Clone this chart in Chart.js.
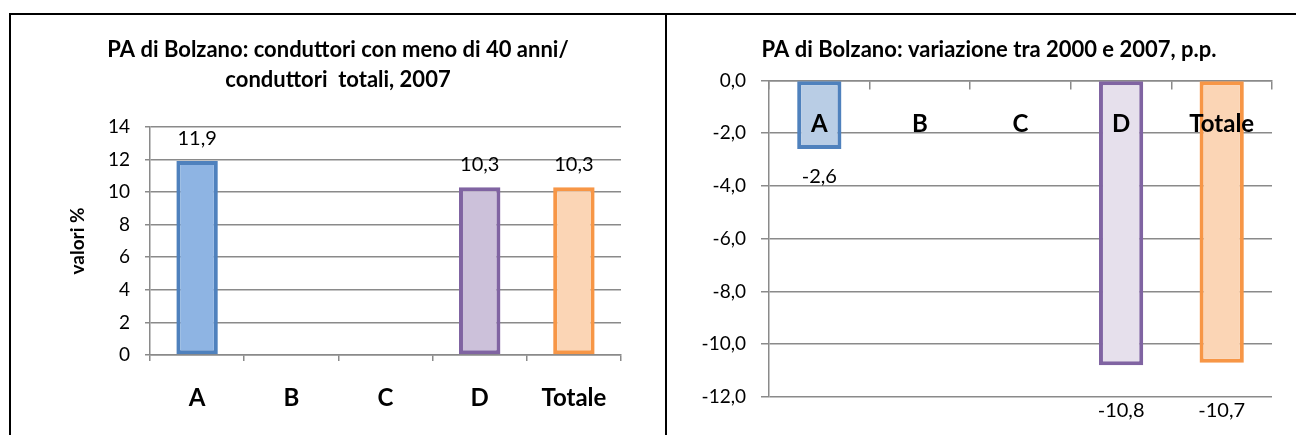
<!DOCTYPE html>
<html lang="it">
<head>
<meta charset="utf-8">
<title>PA di Bolzano</title>
<script src="https://cdn.jsdelivr.net/npm/chart.js@4.4.1/dist/chart.umd.min.js"></script>
<style>
    body { margin: 0; background: #fff; width: 1296px; height: 435px; overflow: hidden; position: relative; }
    .linea { position: absolute; background: #000; }
    .panel { position: absolute; top: 15px; height: 420px; }
</style>
</head>
<body>
<div class="linea" style="left:9px; top:13px; width:1287px; height:2px;"></div>
<div class="linea" style="left:9px; top:13px; width:2px; height:422px;"></div>
<div class="linea" style="left:665px; top:13px; width:2px; height:422px;"></div>

<div class="panel" style="left:11px; width:654px;"><canvas id="graficoQuota"></canvas></div>
<div class="panel" style="left:667px; width:629px;"><canvas id="graficoVariazione"></canvas></div>

<script>
// Datos
const categorie = ['A', 'B', 'C', 'D', 'Totale'];
const valoriQuota = [11.9, null, null, 10.3, 10.3];          // % conduttori < 40 anni, 2007
const valoriVariazione = [-2.6, null, null, -10.8, -10.7];   // variazione 2000-2007, p.p.
const ticksQuota = [0, 2, 4, 6, 8, 10, 12, 14];
const ticksVariazione = [0, -2, -4, -6, -8, -10, -12];

// Colores de las barras
const bordeBarras = ['#4F81BD', '#4F81BD', '#4F81BD', '#8064A2', '#F79646'];
const rellenoQuota = ['#8EB4E3', '#8EB4E3', '#8EB4E3', '#CCC1DA', '#FBD5B5'];
const rellenoVariazione = ['#B9CDE5', '#B9CDE5', '#B9CDE5', '#E6E0EC', '#FBD5B5'];

const fuente = 'Lato';
const gris = '#8a8a8a';

function formatoComa(v) {
    return v.toFixed(1).replace('.', ',');
}

// Plugin para las etiquetas de valor sobre/bajo las barras
function etiquetasPlugin(formato, posicion) {
    return {
        id: 'etiquetas',
        afterDatasetsDraw(chart) {
            const ctx = chart.ctx;
            const meta = chart.getDatasetMeta(0);
            const datos = chart.data.datasets[0].data;
            ctx.save();
            ctx.font = '20px ' + fuente;
            ctx.fillStyle = '#000';
            ctx.textAlign = 'center';
            ctx.textBaseline = 'middle';
            meta.data.forEach((barra, i) => {
                if (datos[i] === null) return;
                ctx.fillText(formato(datos[i]), barra.x, posicion(barra, chart.chartArea));
            });
            ctx.restore();
        }
    };
}

function ejeVacio(ancho) {
    return {
        position: 'right',
        display: true,
        grid: { display: false, drawTicks: false },
        border: { display: false },
        ticks: { display: false },
        afterFit: (s) => { s.width = ancho; }
    };
}

// Gráfico izquierdo: valores %
new Chart(document.getElementById('graficoQuota'), {
    type: 'bar',
    data: {
        labels: categorie,
        datasets: [{
            data: valoriQuota,
            backgroundColor: rellenoQuota,
            borderColor: bordeBarras,
            borderWidth: 4,
            borderSkipped: false,
            barPercentage: 0.44,
            categoryPercentage: 1
        }]
    },
    options: {
        responsive: true,
        maintainAspectRatio: false,
        animation: false,
        layout: { padding: 0 },
        plugins: {
            legend: { display: false },
            tooltip: { enabled: false },
            title: {
                display: true,
                text: ['PA di Bolzano: conduttori con meno di 40 anni/', 'conduttori  totali, 2007'],
                color: '#000',
                font: { family: fuente, size: 22, weight: 'bold', lineHeight: 1.36 },
                padding: { top: 20, bottom: 32 }
            }
        },
        scales: {
            x: {
                grid: { drawOnChartArea: false, color: gris, lineWidth: 1.5, tickLength: 6 },
                border: { color: gris, width: 1.5 },
                ticks: { color: '#000', padding: 23, font: { family: fuente, size: 24, weight: 'bold' } },
                afterFit: (s) => { s.height = 80; }
            },
            y: {
                min: 0,
                max: 14,
                afterBuildTicks: (s) => { s.ticks = ticksQuota.map(v => ({ value: v })); },
                grid: { color: gris, lineWidth: 1.5, tickLength: 5 },
                border: { color: gris, width: 1.5 },
                ticks: { color: '#000', padding: 15, font: { family: fuente, size: 19 } },
                title: {
                    display: true,
                    text: 'valori %',
                    color: '#000',
                    font: { family: fuente, size: 19, weight: 'bold' },
                    padding: { top: 55, bottom: 0 }
                },
                afterFit: (s) => { s.width = 139; }
            },
            y2: ejeVacio(44)
        }
    },
    plugins: [etiquetasPlugin((v) => formatoComa(v), (barra) => barra.y - 23)]
});

// Gráfico derecho: variación en puntos porcentuales
new Chart(document.getElementById('graficoVariazione'), {
    type: 'bar',
    data: {
        labels: categorie,
        datasets: [{
            data: valoriVariazione,
            backgroundColor: rellenoVariazione,
            borderColor: bordeBarras,
            borderWidth: 4,
            borderSkipped: false,
            barPercentage: 0.44,
            categoryPercentage: 1
        }]
    },
    options: {
        responsive: true,
        maintainAspectRatio: false,
        animation: false,
        layout: { padding: { left: 15, right: 0, top: 0, bottom: 38 } },
        plugins: {
            legend: { display: false },
            tooltip: { enabled: false },
            title: {
                display: true,
                text: 'PA di Bolzano: variazione tra 2000 e 2007, p.p.',
                color: '#000',
                font: { family: fuente, size: 22, weight: 'bold', lineHeight: 1.2 },
                padding: { top: 22, bottom: 17 }
            }
        },
        scales: {
            x: {
                position: { y: 0 },
                grid: { drawOnChartArea: false, color: gris, lineWidth: 1.5, tickLength: 8 },
                border: { color: gris, width: 1.5 },
                ticks: { color: '#000', padding: 21, z: 1, font: { family: fuente, size: 24, weight: 'bold' } }
            },
            y: {
                position: 'left',
                min: -12,
                max: 0,
                afterBuildTicks: (s) => { s.ticks = ticksVariazione.map(v => ({ value: v })); },
                grid: { color: gris, lineWidth: 1.5, tickLength: 8 },
                border: { color: gris, width: 1.5 },
                ticks: {
                    color: '#000',
                    padding: 15,
                    font: { family: fuente, size: 19 },
                    callback: (v) => formatoComa(v)
                },
                afterFit: (s) => { s.width = 87; }
            },
            y2: ejeVacio(24)
        }
    },
    plugins: [etiquetasPlugin((v) => formatoComa(v), (barra, area) => {
        let y = barra.y + 28;
        // si la etiqueta choca con el borde inferior, va debajo del eje
        if (y > area.bottom - 14) y = area.bottom + 14;
        return y;
    })]
});
</script>
</body>
</html>
